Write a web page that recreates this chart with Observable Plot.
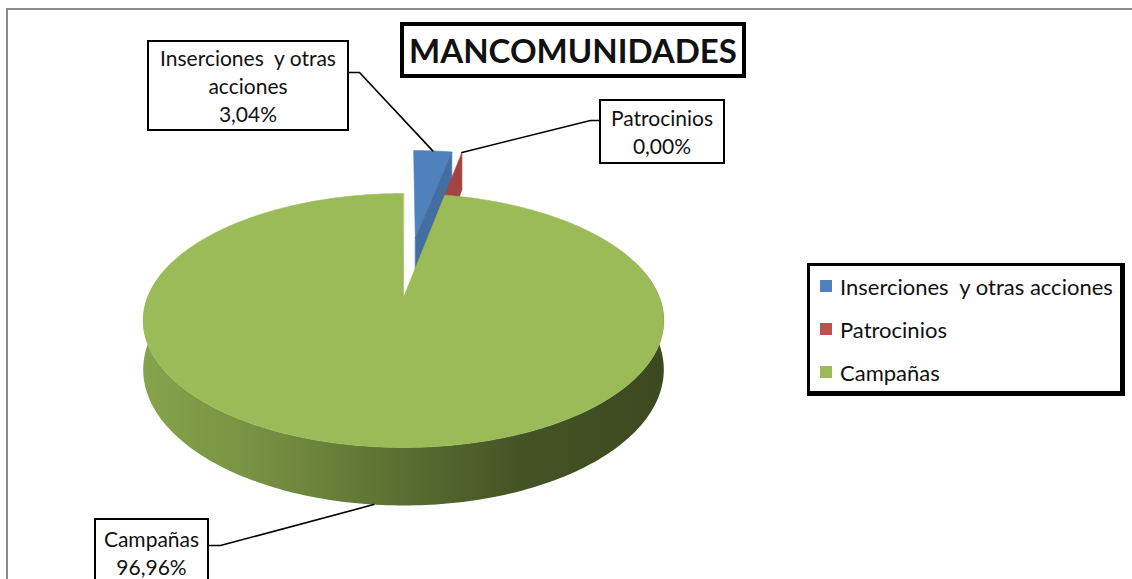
<!DOCTYPE html>
<html><head><meta charset="utf-8">
<script src="https://cdn.jsdelivr.net/npm/d3@7"></script>
<script src="https://cdn.jsdelivr.net/npm/@observablehq/plot@0.6"></script>
<style>
body{margin:0;background:#fff;}
#wrap{position:relative;width:1132px;height:579px;overflow:hidden;font-family:Lato,"Open Sans",sans-serif;color:#111;background:#fff;}
#wrap svg{position:absolute;left:0;top:0;}
.frame{position:absolute;left:6px;top:8px;width:1200px;height:700px;border-left:2px solid #8a8a8a;border-top:2px solid #8a8a8a;}
.box{position:absolute;background:#fff;border:2px solid #000;box-sizing:border-box;text-align:center;display:flex;flex-direction:column;justify-content:center;white-space:pre;}
.box div{line-height:28px;font-size:21px;}
.title{position:absolute;background:#fff;border:4px solid #000;box-sizing:border-box;display:flex;align-items:center;justify-content:center;font-weight:700;font-size:33px;}
.legend{position:absolute;background:#fff;border:3px solid #000;border-right-width:5px;border-bottom-width:5px;box-sizing:border-box;}
.legend .item{position:absolute;left:10px;font-size:22px;white-space:pre;display:flex;align-items:center;height:24px;}
.legend .sw{width:12px;height:12px;margin-right:8px;}
</style></head><body><div id="wrap"><div class="frame"></div></div>
<script>
// ---- data ----
const categories = ["Inserciones  y otras acciones", "Patrocinios", "Campañas"];
const labelLines = [["Inserciones  y otras", "acciones"], ["Patrocinios"], ["Campañas"]];
const values = [3.04, 0.00, 96.96];
const percentLabels = ["3,04%", "0,00%", "96,96%"];
const colors = ["#4f81bd", "#c0504d", "#9bbb59"];
const exploded = [true, true, false];
const titleText = "MANCOMUNIDADES";

// ---- 3D pie geometry (perspective projection) ----
const G = {cx: 403, cy: 297, R: 256, a: 122.8, D: 5.52, h: 47.5, explode: 0.53};
function proj(X, Z, H) {
  const s = G.D / (G.D + Z);
  return [G.cx + G.R * X * s, G.cy - G.a * Z * s + G.h * H * s];
}
const total = d3.sum(values);
let cum = 0;
const slices = values.map((v, i) => {
  const t0 = cum / total * 2 * Math.PI; cum += v;
  const t1 = cum / total * 2 * Math.PI;
  const mid = (t0 + t1) / 2;
  const e = exploded[i] ? G.explode : 0;
  return {i, t0, t1, mid, ox: e * Math.sin(mid), oz: e * Math.cos(mid)};
});

let pid = 0;
function addPoly(arr, pts, c) { const id = pid++; pts.forEach(([x, y]) => arr.push({id, x, y, c})); }
function P(s, th, r, H) { return proj(s.ox + r * Math.sin(th), s.oz + r * Math.cos(th), H); }

function topFace(arr, s) {
  if (s.t1 - s.t0 < 1e-6) return;
  const n = Math.max(2, Math.ceil((s.t1 - s.t0) / (Math.PI / 180)));
  const pts = [P(s, 0, 0, 0)];
  for (let k = 0; k <= n; k++) pts.push(P(s, s.t0 + (s.t1 - s.t0) * k / n, 1, 0));
  addPoly(arr, pts, colors[s.i]);
}
function endFace(arr, s) {
  const c = d3.color(colors[s.i]).darker(0.45).formatHex();
  addPoly(arr, [P(s, s.t1, 0, 0), P(s, s.t1, 1, 0), P(s, s.t1, 1, 1), P(s, s.t1, 0, 1)], c);
}
function walls(arr, s) {
  // front-facing outer wall as one band polygon
  const step = Math.PI / 180;
  const a0 = Math.max(s.t0, Math.PI * 0.4), a1 = Math.min(s.t1, Math.PI * 1.6);
  const top = [], bot = [];
  for (let th = a0; th <= a1 + 1e-9; th += step) { top.push(P(s, th, 1, 0)); bot.push(P(s, th, 1, 1)); }
  addPoly(arr, [...top, ...bot.reverse()], "url(#wallGrad)");
}
const back = [], front = [], frontTop = [];
slices.filter(s => exploded[s.i]).forEach(s => topFace(back, s));
slices.filter(s => exploded[s.i]).forEach(s => endFace(back, s));
slices.filter(s => !exploded[s.i]).forEach(s => { walls(front, s); topFace(frontTop, s); });

// ---- labels layout ----
const labelBoxes = [
  {left: 147, top: 40, width: 202, height: 91, elbow: [[359, 72], [348, 72]]},
  {left: 599, top: 99, width: 126, height: 65, elbow: [[590, 120], [599, 120]]},
  {left: 94, top: 518, width: 115, height: 80, elbow: [[220, 545], [209, 545]]}
];
const anchors = slices.map(s => {
  if (s.i === 2) return P(s, s.mid, 1, 1);
  if (s.t1 - s.t0 < 1e-6) return P(s, s.t1, 1, 0);
  return P(s, s.mid, 1, 0);
});
const leaders = [];
anchors.forEach((a, i) => {
  leaders.push({id: i, x: a[0], y: a[1]});
  labelBoxes[i].elbow.forEach(([x, y]) => leaders.push({id: i, x, y}));
});

const plot = Plot.plot({
  width: 1132, height: 579, margin: 0,
  x: {domain: [0, 1132], range: [0, 1132], axis: null},
  y: {domain: [0, 579], range: [0, 579], axis: null},
  color: {type: "identity"},
  style: {background: "transparent"},
  marks: [
    Plot.line(back, {x: "x", y: "y", z: "id", fill: "c", stroke: "c", strokeWidth: 0.6, curve: "linear-closed"}),
    Plot.line(front, {x: "x", y: "y", z: "id", fill: "url(#wallGrad)", stroke: "none", curve: "linear-closed"}),
    Plot.line(frontTop, {x: "x", y: "y", z: "id", fill: "c", stroke: "c", strokeWidth: 0.6, curve: "linear-closed"}),
    Plot.line(leaders, {x: "x", y: "y", z: "id", stroke: "#000", strokeWidth: 1.6})
  ]
});
// horizontal shading gradient for the pie's side wall
const left = proj(-1.017, -0.181, 0)[0], right = proj(1.017, -0.181, 0)[0];
const defs = document.createElementNS("http://www.w3.org/2000/svg", "defs");
defs.innerHTML = `<linearGradient id="wallGrad" gradientUnits="userSpaceOnUse" x1="${left}" y1="0" x2="${right}" y2="0">
<stop offset="0" stop-color="#87a54c"/><stop offset="0.25" stop-color="#758f41"/><stop offset="0.45" stop-color="#5e7534"/>
<stop offset="0.72" stop-color="#445325"/><stop offset="1" stop-color="#3c4820"/></linearGradient>`;
plot.insertBefore(defs, plot.firstChild);
const wrap = document.getElementById("wrap");
wrap.appendChild(plot);

// label boxes
labelBoxes.forEach((b, i) => {
  const el = document.createElement("div");
  el.className = "box";
  Object.assign(el.style, {left: b.left + "px", top: b.top + "px", width: b.width + "px", height: b.height + "px"});
  if (i === 2) el.style.justifyContent = "flex-start", el.style.paddingTop = "5px";
  [...labelLines[i], percentLabels[i]].forEach(t => { const d = document.createElement("div"); d.textContent = t; el.appendChild(d); });
  wrap.appendChild(el);
});
// title
const ti = document.createElement("div");
ti.className = "title"; ti.textContent = titleText;
Object.assign(ti.style, {left: "400px", top: "22px", width: "346px", height: "56px"});
wrap.appendChild(ti);
// legend
const lg = document.createElement("div");
lg.className = "legend";
Object.assign(lg.style, {left: "807px", top: "263px", width: "318px", height: "133px"});
categories.forEach((c, i) => {
  const it = document.createElement("div"); it.className = "item";
  it.style.top = (8 + i * 43) + "px";
  const sw = document.createElement("span"); sw.className = "sw"; sw.style.background = colors[i];
  const tx = document.createElement("span"); tx.textContent = c;
  it.appendChild(sw); it.appendChild(tx); lg.appendChild(it);
});
wrap.appendChild(lg);
</script></body></html>
